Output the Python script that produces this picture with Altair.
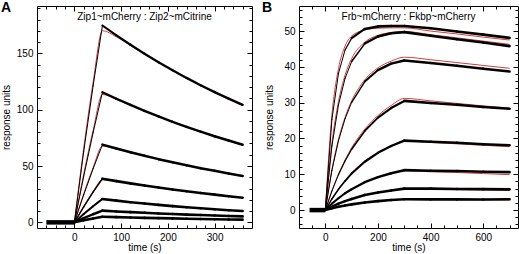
import math
import altair as alt
import pandas as pd

FONT = "Liberation Sans"
RED = "#d43c3c"

# ---------------- Panel A: Zip1~mCherry : Zip2~mCitrine ----------------
A_label = "A"
A_subtitle = "Zip1~mCherry : Zip2~mCitrine"
A_base_t = [-60, 0]
A_base_v = [0, 0]
A_assoc_t = [0, 20, 40, 60]
A_dis_t = [60, 90, 120, 150, 180, 210, 240, 270, 300, 330, 360]

A1_assoc = [0, 63.0, 121.0, 174.7]
A2_assoc = [0, 41.0, 79.5, 115.5]
A3_assoc = [0, 24.5, 47.5, 69.0]
A4_assoc = [0, 13.8, 26.8, 38.8]
A5_assoc = [0, 7.4, 14.3, 20.7]
A6_assoc = [0, 3.7, 7.2, 10.4]
A7_assoc = [0, 1.8, 3.5, 5.0]

A1_dis = [174.7, 165.9, 157.6, 149.6, 142.1, 135.0, 128.2, 121.7, 115.6, 109.8, 104.3]
A2_dis = [115.5, 109.7, 104.2, 98.9, 94.0, 89.2, 84.7, 80.5, 76.4, 72.6, 68.9]
A3_dis = [69.0, 65.5, 62.2, 59.1, 56.1, 53.3, 50.6, 48.1, 45.7, 43.4, 41.2]
A4_dis = [38.8, 36.6, 34.6, 32.7, 30.9, 29.2, 27.6, 26.0, 24.6, 23.2, 21.9]
A5_dis = [20.7, 19.3, 17.9, 16.7, 15.5, 14.4, 13.4, 12.5, 11.6, 10.8, 10.1]
A6_dis = [10.4, 9.7, 9.1, 8.5, 7.9, 7.4, 6.9, 6.5, 6.1, 5.7, 5.3]
A7_dis = [5.0, 4.65, 4.35, 4.0, 3.75, 3.5, 3.25, 3.0, 2.8, 2.6, 2.4]

A_fit_t = [0, 20, 40, 60, 90, 120, 150, 180, 210, 240, 270, 300, 330, 360]
A1_fit = [0, 66, 124, 170.0, 164.6, 157.0, 149.3, 141.9, 134.8, 128.0, 121.5, 115.3, 109.4, 103.6]
A2_fit = [0, 43, 81.5, 113.5, 109.0, 103.9, 98.7, 93.8, 89.0, 84.5, 80.3, 76.2, 72.3, 68.5]
A3_fit = [0, 25.5, 48.5, 67.6, 65.0, 62.0, 59.0, 56.0, 53.2, 50.5, 48.0, 45.6, 43.3, 41.1]
A4_fit = [0, 14.4, 27.4, 37.8, 36.3, 34.5, 32.6, 30.8, 29.1, 27.5, 26.0, 24.6, 23.2, 21.9]
A5_fit = [0, 7.7, 14.6, 20.2, 19.2, 17.9, 16.7, 15.5, 14.4, 13.4, 12.5, 11.6, 10.8, 10.0]
A6_fit = [0, 3.9, 7.3, 10.1, 9.6, 9.0, 8.4, 7.9, 7.4, 6.9, 6.5, 6.1, 5.7, 5.3]
A7_fit = [0, 1.9, 3.6, 4.9, 4.6, 4.3, 4.0, 3.75, 3.5, 3.25, 3.0, 2.8, 2.6, 2.4]

A_x_major = [0, 100, 200, 300]
A_x_minor = [-60, -40, -20, 20, 40, 60, 80, 120, 140, 160, 180, 220, 240, 260, 280, 320, 340, 360]
A_y_major = [0, 50, 100, 150]
A_y_minor = [10, 20, 30, 40, 60, 70, 80, 90, 110, 120, 130, 140, 160, 170, 180, 190]

# ---------------- Panel B: Frb~mCherry : Fkbp~mCherry ----------------
B_label = "B"
B_subtitle = "Frb~mCherry : Fkbp~mCherry"
B_base_t = [-60, 0]
B_base_v = [0, 0]
B_assoc_t = [0, 25, 50, 75, 100, 150, 200, 250, 300]
B_dis_t = [300, 400, 500, 600, 700]

B1_assoc = [0, 25.3, 38.2, 44.7, 48.0, 50.6, 51.3, 51.4, 51.4]
B2_assoc = [0, 17.9, 29.4, 36.8, 41.5, 46.5, 48.5, 49.4, 49.7]
B3_assoc = [0, 11.1, 19.4, 25.5, 30.1, 35.9, 39.1, 40.9, 41.8]
B4_assoc = [0, 5.3, 9.9, 13.7, 17.0, 22.1, 25.8, 28.5, 30.5]
B5_assoc = [0, 3.1, 5.8, 8.1, 10.2, 13.5, 16.0, 17.9, 19.4]
B6_assoc = [0, 1.8, 3.3, 4.7, 5.8, 7.8, 9.2, 10.3, 11.15]
B7_assoc = [0, 0.95, 1.8, 2.5, 3.1, 4.2, 4.9, 5.5, 6.0]
B8_assoc = [0, 0.49, 0.91, 1.28, 1.6, 2.1, 2.5, 2.8, 3.05]

B1_dis = [51.4, 50.8, 49.9, 49.0, 48.1]
B2_dis = [49.7, 48.7, 47.7, 46.8, 45.8]
B3_dis = [41.8, 41.1, 40.3, 39.5, 38.7]
B4_dis = [30.5, 29.9, 29.4, 28.8, 28.3]
B5_dis = [19.4, 19.1, 18.8, 18.4, 18.1]
B6_dis = [11.15, 11.0, 10.9, 10.7, 10.6]
B7_dis = [6.0, 6.0, 5.9, 5.85, 5.8]
B8_dis = [3.05, 3.0, 3.0, 2.95, 3.05]

B_fit_t = [0, 25, 50, 75, 100, 150, 200, 250, 300, 400, 500, 600, 700]
B1_fit = [0, 26.5, 39.5, 45.8, 48.6, 50.3, 50.8, 50.9, 50.9, 50.0, 49.2, 48.3, 47.5]
B2_fit = [0, 18.6, 30.3, 37.7, 42.3, 46.9, 48.8, 49.6, 49.9, 49.0, 48.1, 47.2, 46.3]
B3_fit = [0, 11.3, 19.7, 25.9, 30.5, 36.4, 39.7, 41.6, 42.7, 42.0, 41.2, 40.4, 39.6]
B4_fit = [0, 5.4, 10.1, 14.0, 17.4, 22.6, 26.4, 29.2, 31.2, 30.5, 29.8, 29.1, 28.5]
B5_fit = [0, 3.2, 5.9, 8.3, 10.4, 13.7, 16.1, 17.9, 19.3, 18.9, 18.5, 18.1, 17.7]
B6_fit = [0, 1.8, 3.4, 4.8, 5.9, 7.8, 9.2, 10.2, 11.0, 10.7, 10.5, 10.2, 9.9]
B7_fit = [0, 0.95, 1.8, 2.5, 3.1, 4.2, 4.9, 5.4, 5.9, 5.8, 5.7, 5.6, 5.5]
B8_fit = [0, 0.49, 0.91, 1.28, 1.6, 2.1, 2.5, 2.8, 3.0, 2.95, 2.9, 2.85, 2.8]

B_x_major = [0, 200, 400, 600]
B_x_minor = [-50, 50, 100, 150, 250, 300, 350, 450, 500, 550, 650, 700]
B_y_major = [0, 10, 20, 30, 40, 50]
B_y_minor = [-4, -2, 2, 4, 6, 8, 12, 14, 16, 18, 22, 24, 26, 28, 32, 34, 36, 38,
             42, 44, 46, 48, 52, 54, 56]

X_TITLE = "time (s)"
Y_TITLE = "response units"


def black_segments(curves, xdom, ydom, W, H, base_w=2.6):
    """Split each trace into 2-point segments whose width mimics the noisy band."""
    sx = W / (xdom[1] - xdom[0])
    sy = H / (ydom[1] - ydom[0])
    rows = []
    sid = 0
    for times, vals in curves:
        for i in range(len(times) - 1):
            dx = (times[i + 1] - times[i]) * sx
            dy = (vals[i + 1] - vals[i]) * sy
            c = dx / math.hypot(dx, dy)
            w = max(1.0, base_w * c)
            for j in (i, i + 1):
                rows.append({"t": times[j], "v": vals[j], "seg": sid, "w": w})
            sid += 1
    return pd.DataFrame(rows)


def fit_table(t, fits):
    rows = []
    for k, vals in enumerate(fits):
        for tt, vv in zip(t, vals):
            rows.append({"t": tt, "v": vv, "curve": k})
    return pd.DataFrame(rows)


def make_axis(orient, values, size, labels=False, title=None, title_pad=0, label_pad=4):
    kw = dict(orient=orient, values=values, tickSize=size, offset=-size,
              domain=False, grid=False, labels=labels, tickColor="black",
              tickWidth=1, title=title)
    if labels:
        kw.update(labelPadding=label_pad, labelFontSize=10, labelFont=FONT,
                  labelColor="black", labelFlush=False, labelOverlap=False,
                  format="d")
    if title:
        kw.update(titleFont=FONT, titleFontSize=10, titleFontWeight="normal",
                  titleColor="black", titlePadding=title_pad)
    return alt.Axis(**kw)


def panel(letter, letter_x, subtitle, black_curves, fit_t, fits, base_t, base_v,
          xdom, ydom, W, H, xmaj, xmin, ymaj, ymin, ytitle_pad):
    xs = alt.Scale(domain=xdom, nice=False, zero=False)
    ys = alt.Scale(domain=ydom, nice=False, zero=False)
    seg_df = black_segments(black_curves, xdom, ydom, W, H)
    fit_df = fit_table(fit_t, fits)
    base_df = pd.DataFrame({"t": base_t, "v": base_v})

    fit_layer = alt.Chart(fit_df).mark_line(
        color=RED, strokeWidth=1, interpolate="monotone"
    ).encode(
        x=alt.X("t:Q", scale=xs,
                axis=make_axis("bottom", xmaj, 5, labels=True, title=X_TITLE,
                               title_pad=0, label_pad=4)),
        y=alt.Y("v:Q", scale=ys,
                axis=make_axis("left", ymaj, 5, labels=True, title=Y_TITLE,
                               title_pad=ytitle_pad, label_pad=4)),
        detail="curve:N",
    )
    black_layer = alt.Chart(seg_df).mark_line(
        color="black", strokeCap="round"
    ).encode(
        x=alt.X("t:Q", scale=xs, axis=make_axis("bottom", xmin, 3)),
        y=alt.Y("v:Q", scale=ys, axis=make_axis("left", ymin, 3)),
        detail="seg:N",
        strokeWidth=alt.StrokeWidth("w:Q", scale=None),
    )
    base_layer = alt.Chart(base_df).mark_line(
        color="black", strokeWidth=4.5
    ).encode(
        x=alt.X("t:Q", scale=xs, axis=make_axis("top", xmaj, 5)),
        y=alt.Y("v:Q", scale=ys, axis=make_axis("right", ymaj, 5)),
    )
    ghost_layer = alt.Chart(base_df).mark_line(opacity=0).encode(
        x=alt.X("t:Q", scale=xs, axis=make_axis("top", xmin, 3)),
        y=alt.Y("v:Q", scale=ys, axis=make_axis("right", ymin, 3)),
    )
    letter_layer = alt.Chart(pd.DataFrame({"s": [letter]})).mark_text(
        font=FONT, fontSize=14, fontWeight="bold", align="left",
        baseline="top", color="black"
    ).encode(x=alt.value(letter_x), y=alt.value(-5), text="s:N")
    sub_layer = alt.Chart(pd.DataFrame({"s": [subtitle]})).mark_text(
        font=FONT, fontSize=10, align="center", baseline="middle", color="black"
    ).encode(x=alt.value(W / 2), y=alt.value(11), text="s:N")

    return alt.layer(
        fit_layer, black_layer, base_layer, ghost_layer, letter_layer, sub_layer
    ).resolve_scale(x="independent", y="independent").properties(width=W, height=H)


A_black = [
    (A_assoc_t, A1_assoc), (A_dis_t, A1_dis),
    (A_assoc_t, A2_assoc), (A_dis_t, A2_dis),
    (A_assoc_t, A3_assoc), (A_dis_t, A3_dis),
    (A_assoc_t, A4_assoc), (A_dis_t, A4_dis),
    (A_assoc_t, A5_assoc), (A_dis_t, A5_dis),
    (A_assoc_t, A6_assoc), (A_dis_t, A6_dis),
    (A_assoc_t, A7_assoc), (A_dis_t, A7_dis),
]
A_fits = [A1_fit, A2_fit, A3_fit, A4_fit, A5_fit, A6_fit, A7_fit]

B_black = [
    (B_assoc_t, B1_assoc), (B_dis_t, B1_dis),
    (B_assoc_t, B2_assoc), (B_dis_t, B2_dis),
    (B_assoc_t, B3_assoc), (B_dis_t, B3_dis),
    (B_assoc_t, B4_assoc), (B_dis_t, B4_dis),
    (B_assoc_t, B5_assoc), (B_dis_t, B5_dis),
    (B_assoc_t, B6_assoc), (B_dis_t, B6_dis),
    (B_assoc_t, B7_assoc), (B_dis_t, B7_dis),
    (B_assoc_t, B8_assoc), (B_dis_t, B8_dis),
]
B_fits = [B1_fit, B2_fit, B3_fit, B4_fit, B5_fit, B6_fit, B7_fit, B8_fit]

chart_A = panel(A_label, -36, A_subtitle, A_black, A_fit_t, A_fits, A_base_t, A_base_v,
                [-80, 380], [-5, 192], 215, 222,
                A_x_major, A_x_minor, A_y_major, A_y_minor, 5)
chart_B = panel(B_label, -37, B_subtitle, B_black, B_fit_t, B_fits, B_base_t, B_base_v,
                [-100, 732], [-5, 57], 219, 222,
                B_x_major, B_x_minor, B_y_major, B_y_minor, 9)

chart = alt.hconcat(chart_A, chart_B, spacing=47, bounds="flush", padding=0).configure_view(
    stroke="black", strokeWidth=1
)

chart.save("out.html", embed_options={"renderer": "svg", "actions": False})
